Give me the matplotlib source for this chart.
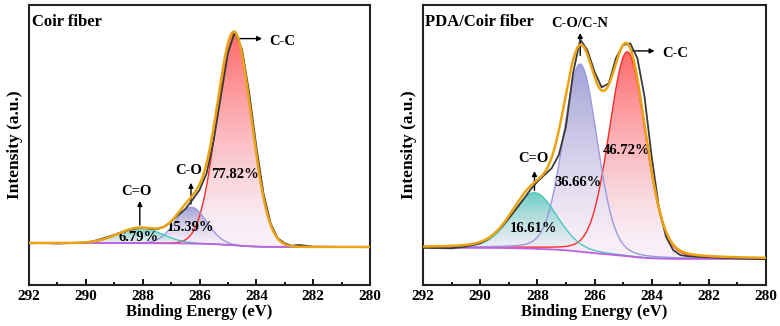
import numpy as np
import matplotlib
matplotlib.use("Agg")
import matplotlib.pyplot as plt
from matplotlib.colors import LinearSegmentedColormap
from matplotlib.patches import Polygon
from matplotlib.ticker import MultipleLocator

plt.rcParams['font.family'] = ['Liberation Serif', 'DejaVu Serif']
plt.rcParams['font.weight'] = 'bold'

energy_raw = [292.0, 291.5, 291.0, 290.5, 290.0, 289.75, 289.5, 289.25, 289.0, 288.75,
              288.5, 288.25, 288.0, 287.75, 287.5, 287.25, 287.0, 286.75, 286.5, 286.25,
              286.0, 285.75, 285.5, 285.25, 285.0, 284.75, 284.5, 284.25, 284.0, 283.75,
              283.5, 283.25, 283.0, 282.75, 282.5, 282.0, 281.0, 280.0]
coir_raw = [14.9, 15.0, 14.8, 15.0, 15.2, 15.6, 16.3, 17.1, 17.9, 18.8,
            19.6, 20.1, 20.5, 20.1, 19.9, 20.8, 22.6, 25.0, 27.1, 30.4,
            33.9, 39.9, 51.8, 67.3, 82.8, 90.5, 83.9, 68.5, 49.4, 32.8,
            22.1, 16.7, 14.9, 14.0, 14.3, 13.7, 13.6, 13.5]
pda_raw = [13.3, 13.2, 13.1, 13.7, 14.9, 16.3, 18.5, 20.8, 23.8, 27.0,
           30.4, 33.9, 36.9, 39.3, 41.7, 46.4, 56.5, 75.6, 87.7, 83.9,
           76.2, 70.6, 72.0, 81.0, 85.7, 86.3, 81.0, 67.3, 45.8, 28.0,
           17.3, 12.5, 10.7, 10.3, 10.1, 9.9, 9.5, 9.2]

# fitted components: center (eV), height, FWHM (eV), Lorentzian fraction
peak_names = ['C-C', 'C-O', 'C=O']
coir_centers = [284.78, 286.30, 288.10]
coir_heights = [76.0, 13.0, 5.5]
coir_fwhm = [1.42, 1.30, 1.80]
coir_lorentz = 0.0
coir_percent = ['77.82%', '15.39%', '6.79%']
coir_bg = (15.0, 13.6)

pda_centers = [284.85, 286.50, 288.10]
pda_heights = [73.0, 67.0, 20.0]
pda_fwhm = [1.50, 1.40, 1.85]
pda_lorentz = 0.15
pda_percent = ['46.72%', '36.66%', '16.61%']
pda_bg = (13.3, 9.3)

line_colors = ['#ff2a2a', '#9a9ae0', '#4cc6be']
top_colors = ['#ff6262', '#9e9ed6', '#66ccc2']
bottom_color = '#f9eff8'


def pseudo_voigt(x, c, h, w, eta):
    u = (x - c) / w
    g = np.exp(-4 * np.log(2) * u ** 2)
    lor = 1 / (1 + 4 * u ** 2)
    return h * ((1 - eta) * g + eta * lor)


def draw_panel(ax, raw, centers, heights, fwhm, eta, bg):
    x = np.linspace(292, 280, 1200)
    comps = [pseudo_voigt(x, c, h, w, eta) for c, h, w in zip(centers, heights, fwhm)]
    total = np.sum(comps, axis=0)
    # Shirley-type background from the fitted area
    cum = np.cumsum(total[::-1])[::-1]
    base = bg[1] + (bg[0] - bg[1]) * cum / cum[0]

    for comp, lc, tc in zip(comps, line_colors, top_colors):
        y = base + comp
        cmap = LinearSegmentedColormap.from_list('g', [bottom_color, tc])
        ytop = y.max()
        ybot = base.min()
        grad = np.linspace(0, 1, 256).reshape(-1, 1)
        grad = np.clip((grad - 0.05) / 0.95, 0, 1) ** 1.3
        im = ax.imshow(grad, cmap=cmap, origin='lower', aspect='auto',
                       extent=[292, 280, ybot, ytop], zorder=1, alpha=0.95)
        verts = np.column_stack([np.r_[x, x[::-1]], np.r_[y, base[::-1]]])
        poly = Polygon(verts, closed=True, facecolor='none', edgecolor='none')
        ax.add_patch(poly)
        im.set_clip_path(poly)
        ax.plot(x, y, color=lc, lw=1.0, zorder=2)

    ax.plot(x, base, color='#c060e0', lw=1.3, zorder=3)
    ax.plot(energy_raw, raw, color='#3a3a3a', lw=1.3, zorder=4)
    ax.plot(x, base + total, color='#eba313', lw=1.8, zorder=5)

    ax.set_xlim(292, 280)
    ax.set_ylim(0, 100)
    ax.xaxis.set_major_locator(MultipleLocator(2))
    ax.xaxis.set_minor_locator(MultipleLocator(1))
    ax.tick_params(axis='x', which='both', direction='in', top=False, labelsize=11, width=1.3)
    ax.tick_params(axis='x', which='major', length=4)
    ax.tick_params(axis='x', which='minor', length=2.5)
    ax.set_yticks([])
    for sp in ax.spines.values():
        sp.set_linewidth(1.5)
        sp.set_color('#222222')
    ax.set_xlabel('Binding Energy (eV)', fontsize=12, fontweight='bold', labelpad=1)
    ax.set_ylabel('Intensity (a.u.)', fontsize=12.5, fontweight='bold', labelpad=4)


fig = plt.figure(figsize=(7.8, 3.26), dpi=100)
ax1 = fig.add_axes([29 / 780, 41 / 326, 341 / 780, 280 / 326])
ax2 = fig.add_axes([423 / 780, 41 / 326, 343 / 780, 280 / 326])

draw_panel(ax1, coir_raw, coir_centers, coir_heights, coir_fwhm, coir_lorentz, coir_bg)
draw_panel(ax2, pda_raw, pda_centers, pda_heights, pda_fwhm, pda_lorentz, pda_bg)

arrow = dict(arrowstyle='-|>', color='black', lw=1.0, mutation_scale=7)
fs = 10.5

ax1.text(0.01, 0.94, 'Coir fiber', transform=ax1.transAxes, fontsize=12, fontweight='bold', va='center')
ax1.annotate('', xy=(283.7, 88.0), xytext=(284.7, 88.0), arrowprops=arrow)
ax1.text(283.55, 87.0, 'C-C', fontsize=fs, va='center', ha='left')
ax1.annotate('', xy=(286.3, 37.5), xytext=(286.3, 27.9), arrowprops=arrow)
ax1.text(286.37, 40.9, 'C-O', fontsize=fs, va='center', ha='center')
ax1.annotate('', xy=(288.1, 31.0), xytext=(288.1, 20.4), arrowprops=arrow)
ax1.text(288.22, 33.5, 'C=O', fontsize=fs, va='center', ha='center')
ax1.text(284.75, 39.3, coir_percent[0], fontsize=fs, ha='center', va='center')
ax1.text(286.33, 20.4, coir_percent[1], fontsize=fs, ha='center', va='center')
ax1.text(288.16, 16.8, coir_percent[2], fontsize=fs, ha='center', va='center')

ax2.text(0.006, 0.94, 'PDA/Coir fiber', transform=ax2.transAxes, fontsize=12, fontweight='bold', va='center')
ax2.annotate('', xy=(283.8, 83.6), xytext=(284.8, 83.6), arrowprops=arrow)
ax2.text(283.64, 82.8, 'C-C', fontsize=fs, va='center', ha='left')
ax2.annotate('', xy=(286.5, 91.0), xytext=(286.5, 81.0), arrowprops=arrow)
ax2.text(286.51, 93.4, 'C-O/C-N', fontsize=fs, va='center', ha='center')
ax2.annotate('', xy=(288.1, 41.7), xytext=(288.1, 32.8), arrowprops=arrow)
ax2.text(288.15, 45.0, 'C=O', fontsize=fs, va='center', ha='center')
ax2.text(284.87, 48.0, pda_percent[0], fontsize=fs, ha='center', va='center')
ax2.text(286.58, 36.5, pda_percent[1], fontsize=fs, ha='center', va='center')
ax2.text(288.15, 20.3, pda_percent[2], fontsize=fs, ha='center', va='center')

fig.savefig('out.png', dpi=100)
